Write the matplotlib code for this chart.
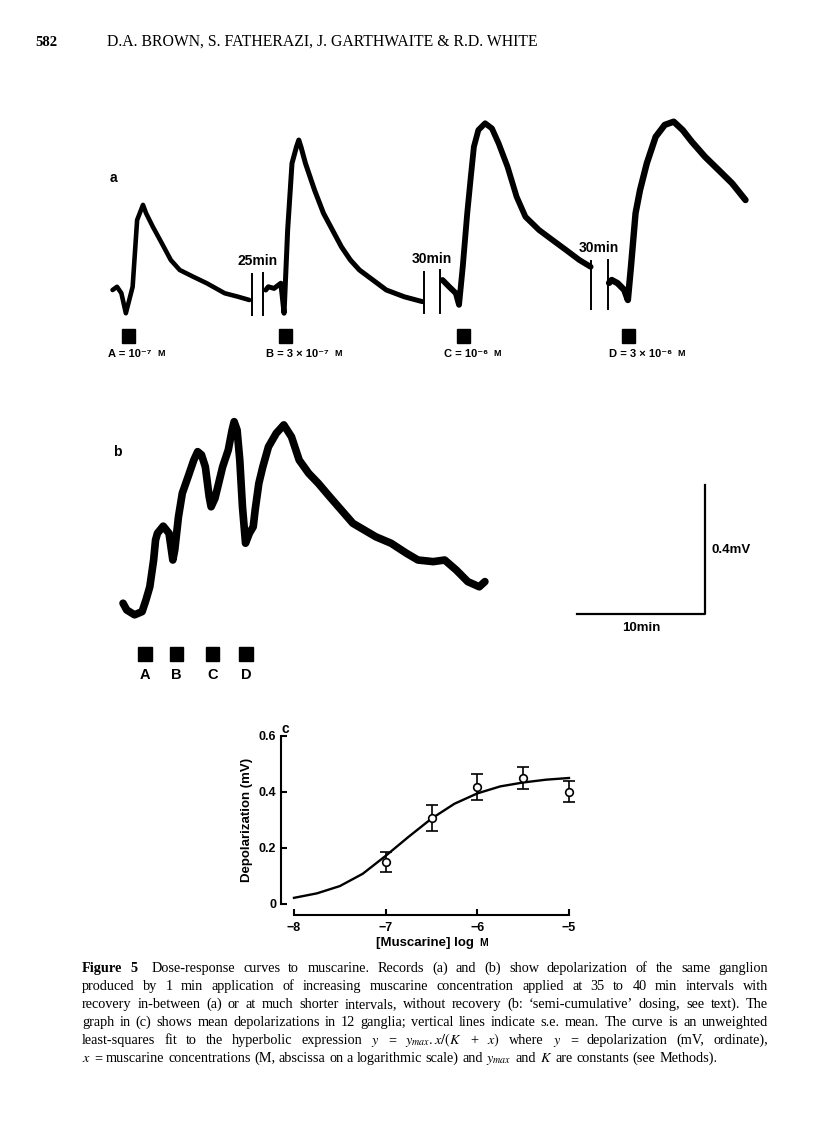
import matplotlib
matplotlib.use('Agg')
import matplotlib.pyplot as plt
from matplotlib.patches import Rectangle

plt.rcParams['font.family'] = ['Liberation Sans', 'DejaVu Sans']
plt.rcParams['mathtext.fontset'] = 'stix'

W, H = 816, 1142

# panel a: four records from the same ganglion (time in min, depolarization in mV)
a_time_A = [0.98, 1.33, 1.67, 2.02, 2.55, 2.90, 3.36, 3.60, 4.13, 4.83, 5.53, 6.23, 7.29, 8.34, 9.74, 10.80, 11.67]
a_volt_A = [0.124, 0.134, 0.114, 0.052, 0.134, 0.341, 0.388, 0.362, 0.320, 0.269, 0.217, 0.186, 0.165, 0.145, 0.114, 0.103, 0.093]
a_time_B = [12.95, 13.15, 13.60, 14.13, 14.38, 14.66, 15.00, 15.35, 15.53, 15.70, 16.05, 16.76, 17.46, 18.16, 18.86,
            19.56, 20.27, 21.32, 22.37, 23.77, 25.18]
a_volt_B = [0.124, 0.134, 0.129, 0.145, 0.052, 0.310, 0.517, 0.568, 0.589, 0.568, 0.517, 0.434, 0.362, 0.310, 0.258,
            0.217, 0.186, 0.155, 0.124, 0.103, 0.088]
a_time_C = [26.76, 27.28, 27.80, 28.05, 28.34, 28.69, 28.97, 29.21, 29.56, 30.09, 30.62, 31.14, 31.84, 32.55, 33.24,
            34.30, 35.35, 36.41, 37.45, 38.33]
a_volt_C = [0.155, 0.134, 0.114, 0.078, 0.196, 0.362, 0.475, 0.568, 0.620, 0.641, 0.625, 0.579, 0.506, 0.413, 0.351,
            0.310, 0.279, 0.248, 0.217, 0.196]
a_time_D = [39.77, 39.98, 40.44, 40.96, 41.24, 41.48, 41.84, 42.19, 42.72, 43.41, 44.12, 44.82, 45.52, 46.23, 47.27,
            48.33, 49.38, 50.43]
a_volt_D = [0.146, 0.155, 0.145, 0.124, 0.093, 0.196, 0.362, 0.434, 0.517, 0.599, 0.636, 0.646, 0.620, 0.584, 0.537,
            0.496, 0.455, 0.403]

# chart breaks between the records (end of one, start of next) and the time left out
break_end = [11.90, 25.31, 38.34]
break_start = [12.76, 26.56, 39.66]
break_top = [0.174, 0.181, 0.214]
break_bottom = [0.047, 0.053, 0.065]
break_labels = ['25min', '30min', '30min']

dose_a = [2.2, 14.5, 28.4, 41.3]
dose_names_a = ['A = 10⁻⁷', 'B = 3 × 10⁻⁷', 'C = 10⁻⁶', 'D = 3 × 10⁻⁶']

# panel b: semi-cumulative dosing
b_time = [1.80, 2.09, 2.70, 3.29, 3.59, 3.89, 4.19, 4.34, 4.49, 4.94, 5.39, 5.69, 5.84, 6.13, 6.43, 6.88, 7.33, 7.63,
          7.93, 8.23, 8.53, 8.68, 8.98, 9.27, 9.58, 10.02, 10.32, 10.48, 10.71, 10.92, 11.13, 11.37, 11.67, 11.97,
          12.12, 12.41, 12.72, 13.16, 13.77, 14.36, 14.96, 15.56, 16.30, 17.05, 17.95, 18.85, 19.75, 20.65, 21.55,
          22.74, 23.94, 24.84, 26.03, 26.93, 27.83, 28.73, 29.63, 30.07]
b_volt = [0.052, 0.031, 0.016, 0.026, 0.062, 0.103, 0.186, 0.248, 0.269, 0.291, 0.269, 0.186, 0.217, 0.320, 0.393,
          0.444, 0.496, 0.522, 0.512, 0.475, 0.382, 0.351, 0.377, 0.424, 0.475, 0.527, 0.589, 0.615, 0.589, 0.496,
          0.351, 0.238, 0.269, 0.289, 0.341, 0.424, 0.475, 0.537, 0.579, 0.605, 0.568, 0.496, 0.455, 0.424, 0.382,
          0.341, 0.300, 0.279, 0.258, 0.238, 0.207, 0.186, 0.181, 0.186, 0.155, 0.119, 0.103, 0.119]
dose_b = [3.52, 5.98, 8.79, 11.41]
dose_names_b = ['A', 'B', 'C', 'D']

# panel c: mean depolarization, 12 ganglia
c_logx = [-7.0, -6.5, -6.0, -5.5, -5.0]
c_mean = [0.151, 0.307, 0.417, 0.450, 0.401]
c_sem = [0.036, 0.048, 0.047, 0.040, 0.037]
fit_logx = [-8.0, -7.75, -7.5, -7.25, -7.0, -6.75, -6.5, -6.25, -6.0, -5.75, -5.5, -5.25, -5.0]
fit_depol = [0.022, 0.038, 0.064, 0.108, 0.172, 0.240, 0.305, 0.358, 0.395, 0.420, 0.434, 0.444, 0.450]

caption_lines = [
    "Figure 5  Dose-response curves to muscarine. Records (a) and (b) show depolarization of the same ganglion",
    "produced by 1 min application of increasing muscarine concentration applied at 35 to 40 min intervals with",
    "recovery in-between (a) or at much shorter intervals, without recovery (b: ‘semi-cumulative’ dosing, see text). The",
    "graph in (c) shows mean depolarizations in 12 ganglia; vertical lines indicate s.e. mean. The curve is an unweighted",
    "least-squares fit to the hyperbolic expression $y$ = $y_{max}.x/(K$ + $x)$ where $y$ = depolarization (mV, ordinate),",
    "$x$ = muscarine concentrations (M, abscissa on a logarithmic scale) and $y_{max}$ and $K$ are constants (see Methods).",
]


def px_rect(x0, y0, x1, y1):
    return [x0 / W, 1 - y1 / H, (x1 - x0) / W, (y1 - y0) / H]


fig = plt.figure(figsize=(W / 100, H / 100), dpi=100)
fig.patch.set_facecolor('white')

# page header
fig.text(35 / W, 1 - 42 / H, '582', family='Liberation Serif', fontsize=10.5, fontweight='bold', va='center')
fig.text(107 / W, 1 - 42 / H, 'D.A. BROWN, S. FATHERAZI, J. GARTHWAITE & R.D. WHITE', family='Liberation Serif',
         fontsize=11.3, va='center')

# ---- panel a ----
axa = fig.add_axes(px_rect(100, 100, 760, 370))
axa.set_xlim(0, 660 / 12.8)
axa.set_ylim(-40 / 322.5, 230 / 322.5)
axa.axis('off')
for tt, vv, lw in [(a_time_A, a_volt_A, 3.3), (a_time_B, a_volt_B, 3.6), (a_time_C, a_volt_C, 4.2),
                   (a_time_D, a_volt_D, 4.6)]:
    axa.plot(tt, vv, color='black', lw=lw, solid_joinstyle='round', solid_capstyle='round')
for i in range(len(break_end)):
    axa.plot([break_end[i], break_end[i]], [break_bottom[i], break_top[i]], color='black', lw=1.4)
    axa.plot([break_start[i], break_start[i]], [break_bottom[i], break_top[i] + 0.004], color='black', lw=1.4)
    axa.text((break_end[i] + break_start[i]) / 2, break_top[i] + 0.018, break_labels[i], fontsize=10,
             fontweight='bold', ha='center', va='bottom')
for d, name in zip(dose_a, dose_names_a):
    axa.add_patch(Rectangle((d - 0.5, -0.040), 1.0, 0.043, color='black'))
    t = axa.text(d - 1.55, -0.074, name, fontsize=8, fontweight='bold', ha='left', va='center')
    axa.annotate('M', xy=(1, 0), xycoords=t, xytext=(4, 0.8), textcoords='offset points', fontsize=6.5,
                 fontweight='bold', ha='left', va='bottom')
axa.text(1.02, 0.471, 'a', fontsize=10, fontweight='bold', ha='center', va='center')

# ---- panel b ----
axb = fig.add_axes(px_rect(100, 400, 760, 690))
axb.set_xlim(0, 660 / 12.8)
axb.set_ylim(-70 / 322.5, 220 / 322.5)
axb.axis('off')
axb.plot(b_time, b_volt, color='black', lw=5.5, solid_joinstyle='round', solid_capstyle='round')
for d, name in zip(dose_b, dose_names_b):
    axb.add_patch(Rectangle((d - 0.52, -0.127), 1.04, 0.043, color='black'))
    axb.text(d, -0.171, name, fontsize=10.5, fontweight='bold', ha='center', va='center')
axb.text(1.33, 0.521, 'b', fontsize=10, fontweight='bold', ha='center', va='center')
# scale bars
axb.plot([37.27, 47.27, 47.27], [0.019, 0.019, 0.419], color='black', lw=1.6)
axb.text(47.8, 0.217, '0.4mV', fontsize=9.5, fontweight='bold', ha='left', va='center')
axb.text(42.27, -0.025, '10min', fontsize=9.5, fontweight='bold', ha='center', va='center')

# ---- panel c ----
axc = fig.add_axes(px_rect(294, 736, 569, 904))
axc.plot(fit_logx, fit_depol, color='black', lw=1.7, clip_on=False)
axc.errorbar(c_logx, c_mean, yerr=c_sem, fmt='o', ms=5.5, mfc='white', mec='black', mew=1.2, ecolor='black',
             elinewidth=1.2, capsize=4, capthick=1.2, clip_on=False, zorder=3)
axc.set_xlim(-8, -5)
axc.set_ylim(0, 0.6)
for s in ['top', 'right']:
    axc.spines[s].set_visible(False)
axc.spines['left'].set_position(('outward', 9.4))
axc.spines['bottom'].set_position(('outward', 8))
axc.spines['left'].set_bounds(0, 0.6)
axc.spines['bottom'].set_bounds(-8, -5)
axc.spines['left'].set_linewidth(1.5)
axc.spines['bottom'].set_linewidth(1.5)
axc.set_xticks([-8, -7, -6, -5])
axc.set_xticklabels(['−8', '−7', '−6', '−5'])
axc.set_yticks([0, 0.2, 0.4, 0.6])
axc.set_yticklabels(['0', '0.2', '0.4', '0.6'])
axc.tick_params(direction='in', length=4, width=1.5, labelsize=9)
axc.tick_params(axis='x', pad=5)
for lab in axc.get_xticklabels() + axc.get_yticklabels():
    lab.set_fontweight('bold')
axc.set_ylabel('Depolarization (mV)', fontsize=9.5, fontweight='bold', labelpad=4)
xl = fig.text(425 / W, 1 - 943 / H, '[Muscarine] log', fontsize=9.5, fontweight='bold', ha='center', va='center')
fig.text(1, 0, ' ', transform=None)
axc.annotate('M', xy=(1, 0.1), xycoords=xl, xytext=(3.5, 0), textcoords='offset points', fontsize=7.5,
             fontweight='bold', ha='left', va='bottom', annotation_clip=False)
fig.text(285 / W, 1 - 729 / H, 'c', fontsize=10, fontweight='bold', ha='center', va='center')

# ---- caption, justified ----
renderer = fig.canvas.get_renderer()
x_left, x_right = 82, 768
y0 = 968
for li, line in enumerate(caption_lines):
    words = [w for w in line.split(' ') if w != '']
    texts = []
    for wi, w in enumerate(words):
        bold = li == 0 and wi < 2
        t = fig.text(0, 0, w, family='Liberation Serif', fontsize=10.3,
                     fontweight='bold' if bold else 'normal', va='baseline', ha='left')
        texts.append(t)
    widths = [t.get_window_extent(renderer).width for t in texts]
    if li < len(caption_lines) - 1:
        gap = (x_right - x_left - sum(widths) - (6 if li == 0 else 0)) / (len(words) - 1)
    else:
        gap = 3.6
    x = x_left
    for wi, (t, wd) in enumerate(zip(texts, widths)):
        t.set_position((x / W, 1 - (y0 + 18 * li + 4) / H))
        x += wd + gap
        if li == 0 and wi == 1:
            x += 6

fig.savefig('out.png', dpi=100, facecolor='white')
